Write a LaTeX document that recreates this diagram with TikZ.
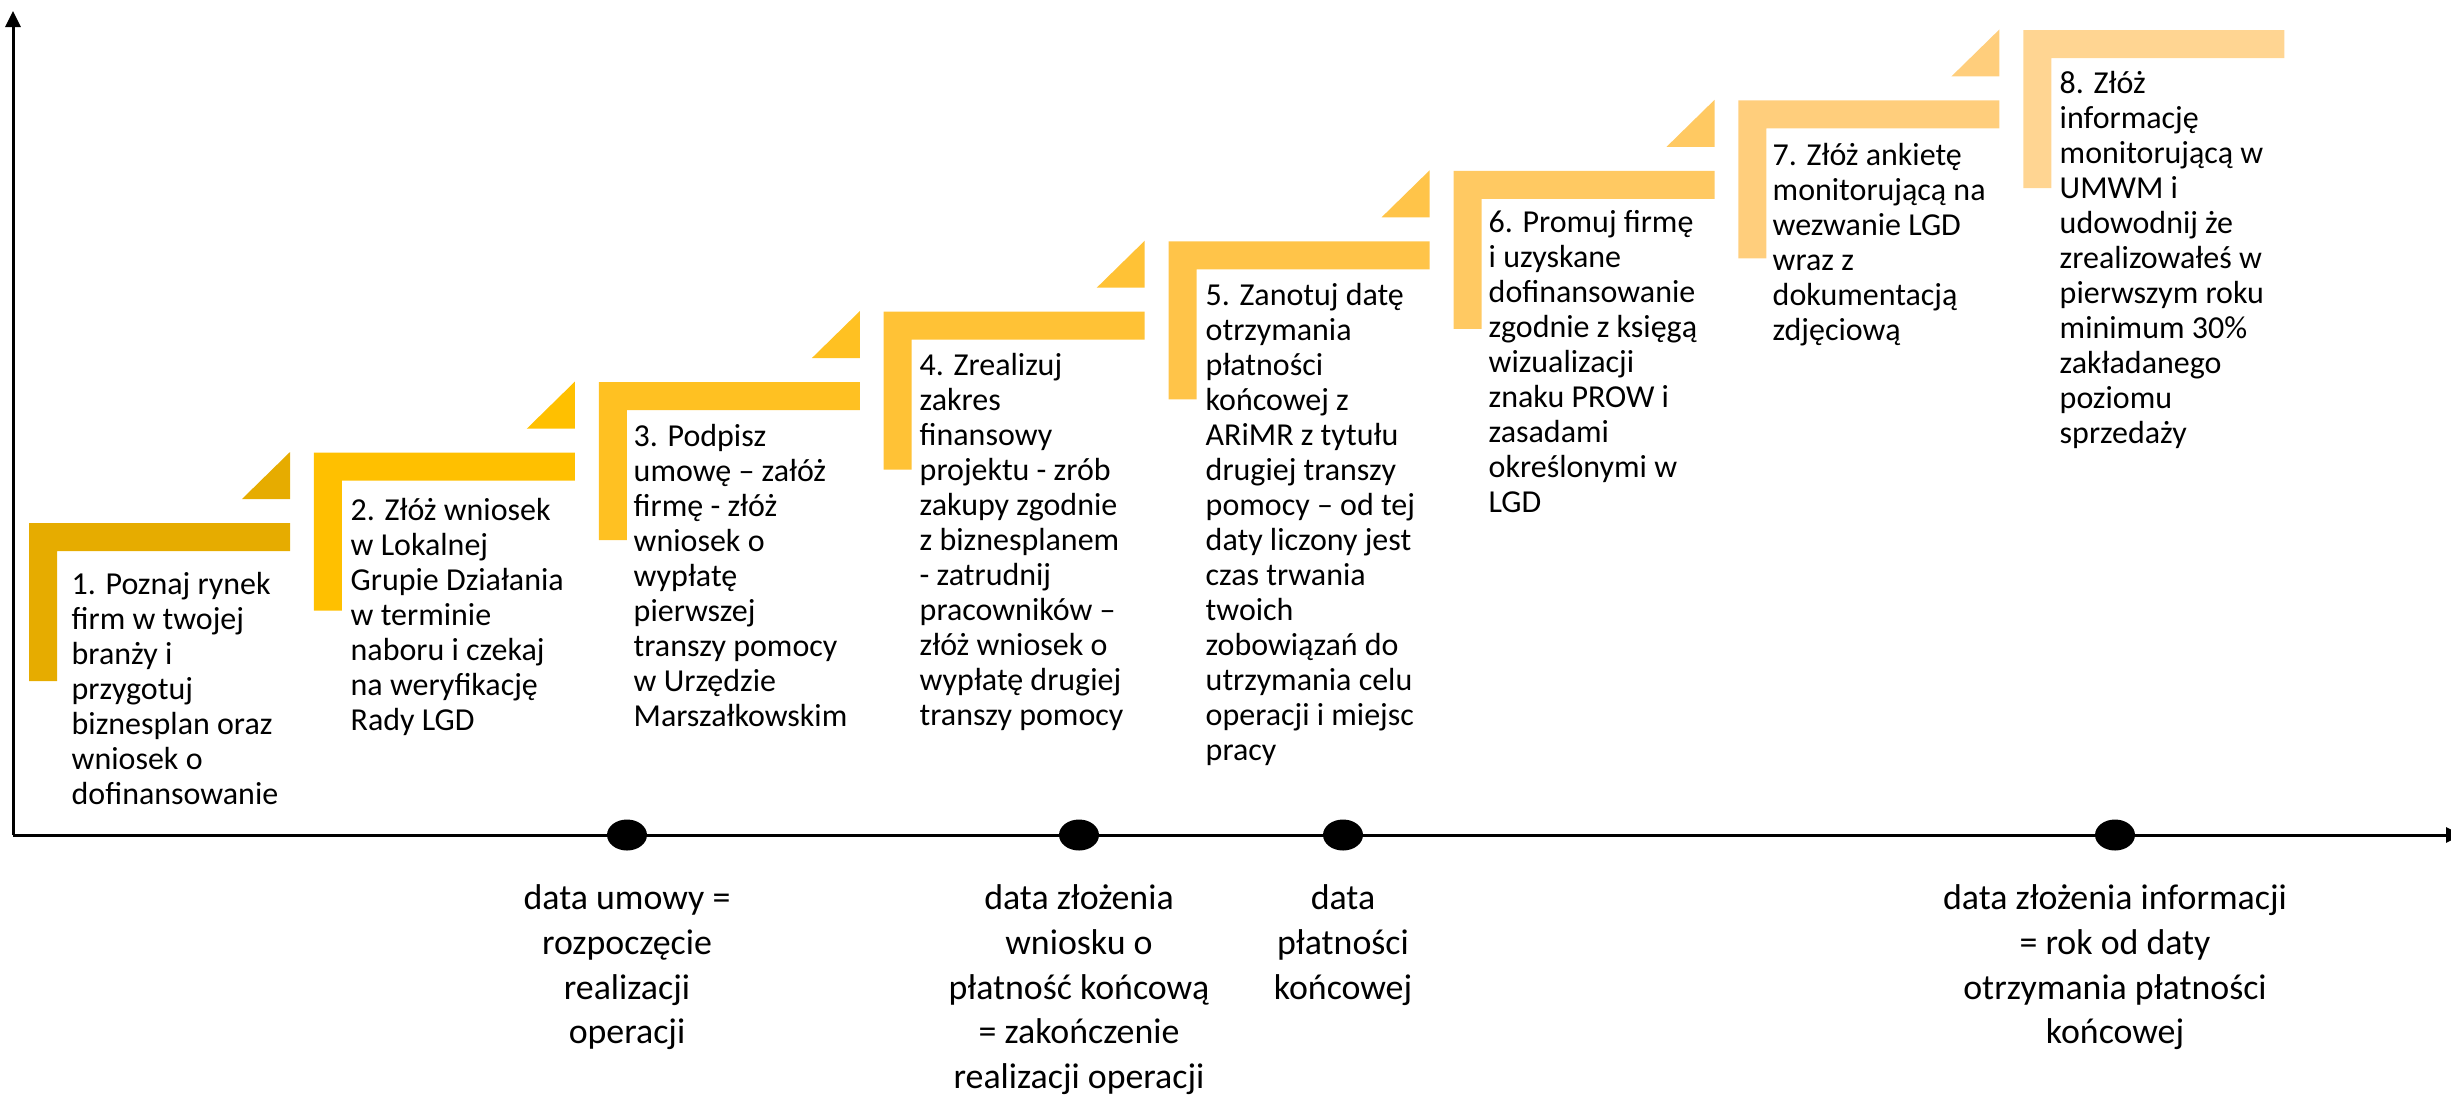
\documentclass[tikz,border=0pt]{standalone}
\usepackage{fontspec}
\setmainfont{Carlito}
\usetikzlibrary{arrows.meta,shapes.geometric}
\definecolor{s1}{HTML}{E6AC00}
\definecolor{s2}{HTML}{FFC000}
\definecolor{s3}{HTML}{FFC122}
\definecolor{s4}{HTML}{FFC236}
\definecolor{s5}{HTML}{FFC449}
\definecolor{s6}{HTML}{FFC962}
\definecolor{s7}{HTML}{FFCE7C}
\definecolor{s8}{HTML}{FFD592}
\begin{document}
\begin{tikzpicture}[x=0.1mm,y=-0.1mm,
  axis/.style={line width=0.3mm, draw=black},
  steptext/.style={anchor=north west, inner sep=0pt, align=left, font=\fontsize{9.1pt}{9.96pt}\selectfont},
  datelabel/.style={anchor=north, inner sep=0pt, align=center, font=\fontsize{10.2pt}{12.7pt}\selectfont},
  dot/.style={ellipse, fill=black, minimum width=4mm, minimum height=3.1mm, inner sep=0pt}]

\useasboundingbox (0,0) rectangle (2451,1098);

% step shapes
\foreach \k/\c in {0/s1,1/s2,2/s3,3/s4,4/s5,5/s6,6/s7,7/s8} {
  \pgfmathsetmacro\L{29+284.9*\k}
  \pgfmathsetmacro\T{523-70.43*\k}
  \fill[\c] (\L,\T) -- ++(261,0) -- ++(0,28) -- ++(-233,0) -- ++(0,130) -- ++(-28,0) -- cycle;
  \ifnum\k<7
    \fill[\c] (\L+261,\T-71) -- (\L+261,\T-24) -- (\L+213,\T-24) -- cycle;
  \fi
}

% axes
\coordinate (O) at (13,835);
\coordinate (Ytop) at (13,11);
\coordinate (Xend) at (2462,835);
\draw[axis,-{Triangle[length=1.6mm,width=1.5mm]}] (O) -- (Ytop);
\draw[axis,-{Triangle[length=1.6mm,width=1.5mm]}] (O) -- (Xend);

% dots
\node[dot] (p1) at (627,835) {};
\node[dot] (p2) at (1079,835) {};
\node[dot] (p3) at (1343,835) {};
\node[dot] (p4) at (2115,835) {};

% step texts
\node[steptext] (t1) at (71,562) {\rule{0pt}{9pt}1. Poznaj rynek\\firm w twojej\\branży i\\przygotuj\\biznesplan oraz\\wniosek o\\dofinansowanie};
\node[steptext] (t2) at (350,488) {\rule{0pt}{9pt}2. Złóż wniosek\\w Lokalnej\\Grupie Działania\\w terminie\\naboru i czekaj\\na weryfikację\\Rady LGD};
\node[steptext] (t3) at (633,414) {\rule{0pt}{9pt}3. Podpisz\\umowę – załóż\\firmę - złóż\\wniosek o\\wypłatę\\pierwszej\\transzy pomocy\\w Urzędzie\\Marszałkowskim};
\node[steptext] (t4) at (919,343) {\rule{0pt}{9pt}4. Zrealizuj\\zakres\\finansowy\\projektu - zrób\\zakupy zgodnie\\z biznesplanem\\- zatrudnij\\pracowników –\\złóż wniosek o\\wypłatę drugiej\\transzy pomocy};
\node[steptext] (t5) at (1205,273) {\rule{0pt}{9pt}5. Zanotuj datę\\otrzymania\\płatności\\końcowej z\\ARiMR z tytułu\\drugiej transzy\\pomocy – od tej\\daty liczony jest\\czas trwania\\twoich\\zobowiązań do\\utrzymania celu\\operacji i miejsc\\pracy};
\node[steptext] (t6) at (1488,200) {\rule{0pt}{9pt}6. Promuj firmę\\i uzyskane\\dofinansowanie\\zgodnie z księgą\\wizualizacji\\znaku PROW i\\zasadami\\określonymi w\\LGD};
\node[steptext] (t7) at (1772,133) {\rule{0pt}{9pt}7. Złóż ankietę\\monitorującą na\\wezwanie LGD\\wraz z\\dokumentacją\\zdjęciową};
\node[steptext] (t8) at (2059,61) {\rule{0pt}{9pt}8. Złóż\\informację\\monitorującą w\\UMWM i\\udowodnij że\\zrealizowałeś w\\pierwszym roku\\minimum 30\%\\zakładanego\\poziomu\\sprzedaży};

% date labels
\node[datelabel] (l1) at (627,874) {\rule{0pt}{10pt}data umowy =\\rozpoczęcie\\realizacji\\operacji};
\node[datelabel] (l2) at (1079,874) {\rule{0pt}{10pt}data złożenia\\wniosku o\\płatność końcową\\= zakończenie\\realizacji operacji};
\node[datelabel] (l3) at (1343,874) {\rule{0pt}{10pt}data\\płatności\\końcowej};
\node[datelabel] (l4) at (2115,874) {\rule{0pt}{10pt}data złożenia informacji\\= rok od daty\\otrzymania płatności\\końcowej};
\end{tikzpicture}
\end{document}
